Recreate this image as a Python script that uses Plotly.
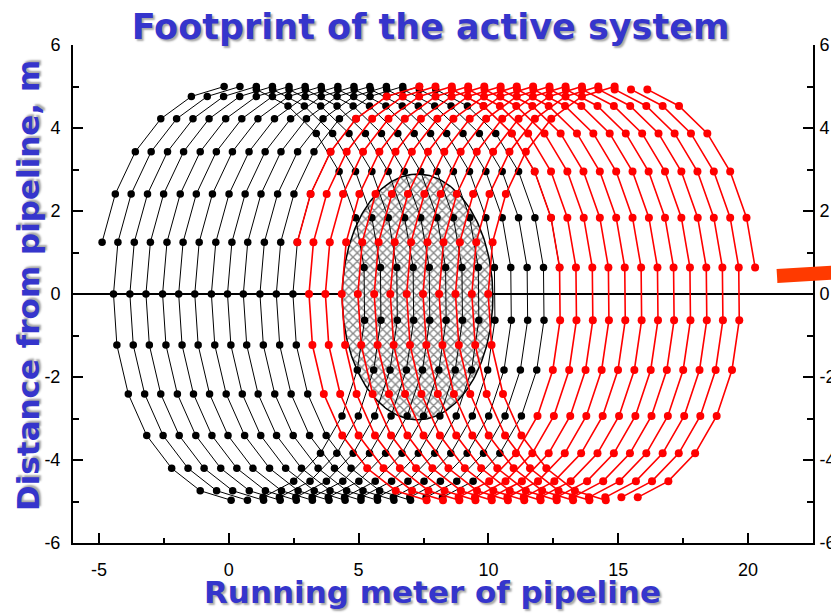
import numpy as np
import plotly.graph_objects as go

# ---------------- data ----------------
# "(" shaped sweeps: row heights (m) and x offset of each row from the sweep's y=0 point
LEFT_ROW_Y = [5.0, 4.76, 4.22, 3.43, 2.41, 1.25, 0.0, -1.23, -2.41, -3.41, -4.2, -4.74, -4.97]
LEFT_DX = [4.87, 3.61, 2.43, 1.45, 0.68, 0.17, 0.0, 0.13, 0.57, 1.28, 2.24, 3.34, 4.53]
# ")" shaped sweeps: row heights and x offset from the sweep's y=0.64 point
RIGHT_ROW_Y = [4.93, 4.53, 3.87, 2.95, 1.84, 0.64, -0.63, -1.83, -2.94, -3.84, -4.51, -4.9]
RIGHT_DX = [-4.15, -2.93, -1.84, -0.96, -0.33, 0.0, 0.02, -0.26, -0.85, -1.68, -2.71, -3.89]
UPPER_ROWS = 6  # sweeps that only have their upper half

# reference x (running meter) of each sweep
BLACK_LEFT_UPPER_ONLY = [-5.05]
BLACK_LEFT_FULL = [-4.44, -3.81, -3.19, -2.55, -1.93, -1.31, -0.67, -0.05, 0.56, 1.2, 1.83, 2.47]
BLACK_RIGHT_FULL = [5.21, 5.84, 6.47, 7.1, 7.72, 8.35, 8.98, 9.61, 10.23, 10.86, 11.49, 12.12]
BLACK_RIGHT_UPPER_ONLY = [12.74]

RED_LEFT_UPPER_ONLY = [2.47]
RED_LEFT_FULL = [3.09, 3.72, 4.35, 4.97, 5.6, 6.22, 6.85, 7.48, 8.1, 8.73, 9.36, 9.99]
RED_RIGHT_FULL = [12.74, 13.37, 14.0, 14.62, 15.25, 15.88, 16.51, 17.13, 17.76, 18.39, 19.01, 19.64]
RED_RIGHT_UPPER_ONLY = [20.27]

# hatched footprint ellipse
ELLIPSE_CX, ELLIPSE_CY = 7.27, -0.07
ELLIPSE_RX, ELLIPSE_RY = 2.9, 2.96

# axes
X_TICKS = [-5, 0, 5, 10, 15, 20]
X_TICK_TEXT = ["-5", "0", "5", "10", "15", "20"]
Y_TICKS = [-6, -4, -2, 0, 2, 4, 6]
Y_TICK_TEXT = ["-6", "-4", "-2", "0", "2", "4", "6"]

TITLE = "Footprint of the active system"
X_TITLE = "Running meter of pipeline"
Y_TITLE = "Distance from pipeline, m"

BLUE = "#3535cc"
SHADOW = "2px 2px 2px rgba(0,0,0,0.35)"

# the page body has an 8px margin; the figure is sized to fill the rest of the window
OFF = 8
W, H = 839 - OFF, 613 - OFF


def sweeps(refs, dx, ys, nrows):
    xs, yy = [], []
    for r in refs:
        for i in range(nrows):
            xs.append(r + dx[i])
            yy.append(ys[i])
        xs.append(None)
        yy.append(None)
    return xs, yy


def family(left_upper, left_full, right_full, right_upper):
    X, Y = [], []
    for refs, dx, ys, n in [
        (left_upper, LEFT_DX, LEFT_ROW_Y, UPPER_ROWS),
        (left_full, LEFT_DX, LEFT_ROW_Y, len(LEFT_ROW_Y)),
        (right_full, RIGHT_DX, RIGHT_ROW_Y, len(RIGHT_ROW_Y)),
        (right_upper, RIGHT_DX, RIGHT_ROW_Y, UPPER_ROWS),
    ]:
        a, b = sweeps(refs, dx, ys, n)
        X += a
        Y += b
    return X, Y


fig = go.Figure()

t = np.linspace(0, 2 * np.pi, 241)
fig.add_trace(go.Scatter(
    x=ELLIPSE_CX + ELLIPSE_RX * np.cos(t), y=ELLIPSE_CY + ELLIPSE_RY * np.sin(t),
    mode="lines", line=dict(color="black", width=1.5),
    fill="toself", fillcolor="white",
    fillpattern=dict(shape="x", fgcolor="#111111", bgcolor="white", size=6, solidity=0.4),
    hoverinfo="skip", showlegend=False))

bx, by = family(BLACK_LEFT_UPPER_ONLY, BLACK_LEFT_FULL, BLACK_RIGHT_FULL, BLACK_RIGHT_UPPER_ONLY)
fig.add_trace(go.Scatter(x=bx, y=by, mode="lines+markers", connectgaps=False,
                         line=dict(color="black", width=1),
                         marker=dict(color="black", size=7.5),
                         showlegend=False, hoverinfo="skip"))

rx, ry = family(RED_LEFT_UPPER_ONLY, RED_LEFT_FULL, RED_RIGHT_FULL, RED_RIGHT_UPPER_ONLY)
fig.add_trace(go.Scatter(x=rx, y=ry, mode="lines+markers", connectgaps=False,
                         line=dict(color="#ff0000", width=1.6),
                         marker=dict(color="#ff0000", size=8),
                         showlegend=False, hoverinfo="skip"))

# dummy trace so the mirrored right axis is drawn with labels
fig.add_trace(go.Scatter(x=[None], y=[None], yaxis="y2", showlegend=False, hoverinfo="skip"))

tickfont = dict(family="Liberation Sans", size=18, color="black")
minor_y = dict(dtick=1, ticks="inside", ticklen=6, tickwidth=2, tickcolor="black", showgrid=False)

fig.update_layout(
    width=W, height=H,
    margin=dict(l=73 - OFF, r=26, t=45 - OFF, b=70, autoexpand=False),
    paper_bgcolor="white", plot_bgcolor="white",
    showlegend=False,
    title=dict(text=TITLE, x=(430.5 - OFF) / W, xanchor="center", xref="container",
               y=1 - (27 - OFF) / H, yanchor="middle", yref="container", automargin=False,
               font=dict(family="DejaVu Sans", size=35, color=BLUE, weight="bold", shadow=SHADOW)),
    xaxis=dict(range=[-6, 22.5], tickmode="array", tickvals=X_TICKS, ticktext=X_TICK_TEXT,
               ticks="inside", ticklen=10, tickwidth=2, automargin=False,
               tickcolor="black", showline=True, linewidth=2, linecolor="black",
               showgrid=False, zeroline=False, tickfont=tickfont, ticklabelstandoff=9,
               minor=dict(dtick=2.5, tick0=0, ticks="inside", ticklen=5, tickwidth=2,
                          tickcolor="black", showgrid=False)),
    yaxis=dict(range=[-6, 6], tickmode="array", tickvals=Y_TICKS, ticktext=Y_TICK_TEXT,
               ticks="inside", ticklen=10, tickwidth=2, automargin=False,
               tickcolor="black", showline=True, linewidth=2, linecolor="black",
               showgrid=False, zeroline=True, zerolinecolor="black", zerolinewidth=2,
               tickfont=tickfont, ticklabelstandoff=7, minor=dict(minor_y, tick0=0)),
    yaxis2=dict(range=[-6, 6], overlaying="y", side="right", tickmode="array",
                tickvals=Y_TICKS, ticktext=Y_TICK_TEXT, automargin=False,
                ticks="inside", ticklen=10, tickwidth=2, tickcolor="black",
                showline=True, linewidth=2, linecolor="black",
                showgrid=False, zeroline=False, tickfont=tickfont, ticklabelstandoff=1,
                minor=dict(minor_y, tick0=0)),
    annotations=[
        dict(text=X_TITLE, xref="paper", yref="paper", x=(432 - 73) / 740, y=(543 - 592) / 498,
             xanchor="center", yanchor="middle", showarrow=False,
             font=dict(family="DejaVu Sans", size=31, color=BLUE, weight="bold", shadow=SHADOW)),
        dict(text=Y_TITLE, xref="paper", yref="paper", x=(28 - 73) / 740, y=(543 - 286) / 498,
             xanchor="center", yanchor="middle", textangle=-90, showarrow=False,
             font=dict(family="DejaVu Sans", size=31, color=BLUE, weight="bold", shadow=SHADOW)),
    ],
    shapes=[
        dict(type="line", xref="paper", yref="paper",
             x0=(777 - 73) / 740, y0=(543 - 276) / 498, x1=(845 - 73) / 740, y1=(543 - 272) / 498,
             line=dict(color="#ff3a00", width=14), layer="above"),
    ],
)

fig.write_html("out.html")
